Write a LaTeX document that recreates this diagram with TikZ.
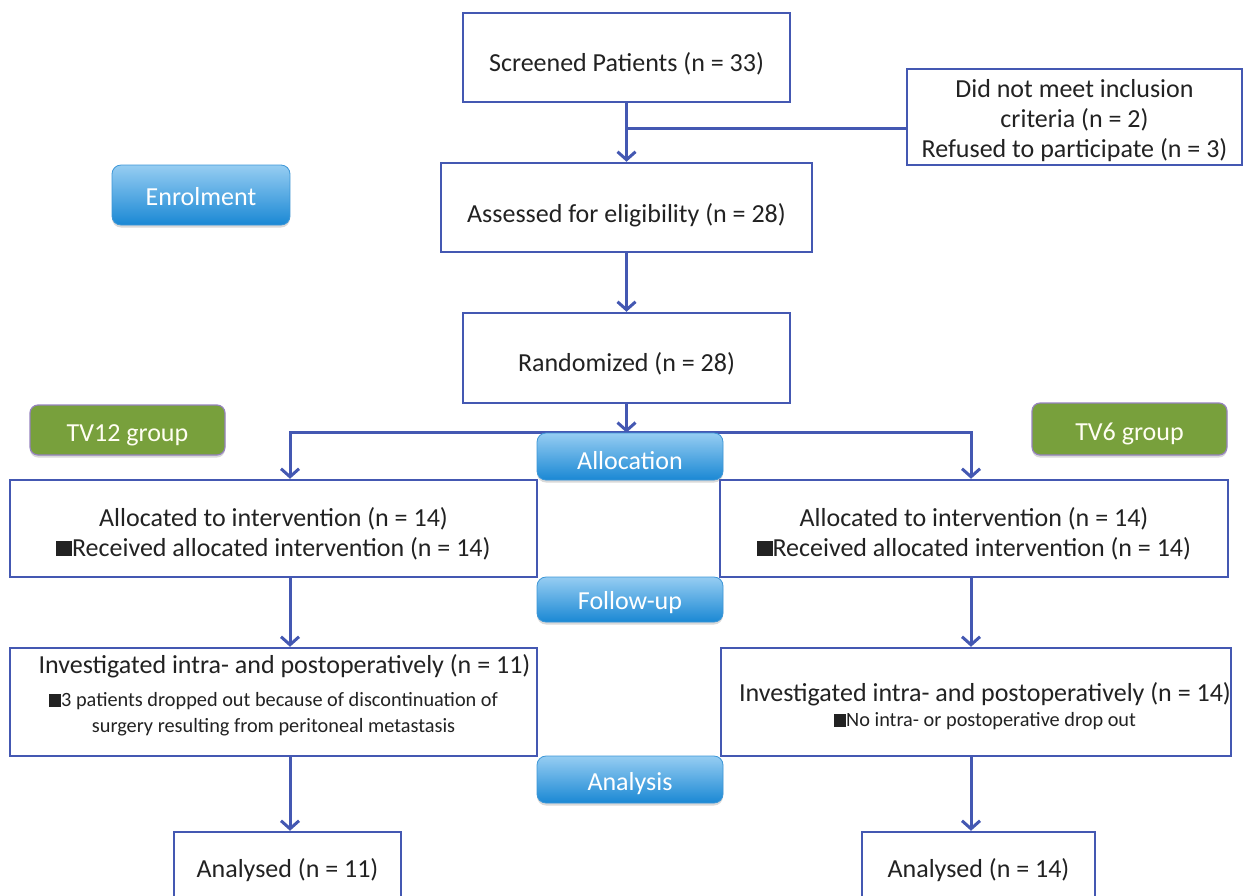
\documentclass[tikz,border=0pt]{standalone}
\usepackage{fontspec}
\setmainfont{Carlito}
\usetikzlibrary{arrows.meta,shadows,backgrounds}
\definecolor{ln}{RGB}{68,88,178}
\definecolor{txt}{RGB}{34,34,34}
\definecolor{pillt}{RGB}{150,205,242}
\definecolor{pillbot}{RGB}{26,136,212}
\definecolor{pillb}{RGB}{60,150,215}
\definecolor{grn}{RGB}{120,160,60}
\definecolor{grnb}{RGB}{150,130,190}
\newcommand\smf{\fontsize{20.3}{26}\selectfont}
\newcommand\bsq{\rule{0.6em}{0.6em}}
\newcommand\sd[1]{\rule{0pt}{#1pt}}
\begin{document}
\begin{tikzpicture}[x=1pt,y=-1pt,
  box/.style={draw=ln, line width=2.5pt, fill=white, align=center, inner sep=0pt,
    font=\fontsize{26}{30}\selectfont, text=txt},
  pill/.style={rounded corners=9pt, draw=pillb, line width=0.8pt, top color=pillt,
    bottom color=pillbot, text=white, inner sep=0pt, font=\fontsize{26}{30}\selectfont,
    drop shadow={opacity=0.3, shadow xshift=0pt, shadow yshift=-2.5pt}},
  grp/.style={rounded corners=8pt, draw=grnb, line width=1.2pt, fill=grn,
    text=white!95!yellow, inner sep=0pt, font=\fontsize{26}{30}\selectfont,
    drop shadow={opacity=0.3, shadow xshift=0pt, shadow yshift=-2.5pt}},
  arr/.style={draw=ln, line width=3pt, -{Straight Barb[length=8pt,width=18pt]}},
  conn/.style={draw=ln, line width=3pt}]
\useasboundingbox (0,0) rectangle (1244,895);
\clip (0,0) rectangle (1244,895);
% boxes
\node[box, minimum width=327, minimum height=89] (scr) at (626.5,57.5) {\sd{31.5}Screened Patients (n = 33)};
\node[box, minimum width=335, minimum height=96] (excl) at (1074.5,117) {\sd{25}Did not meet inclusion\\criteria (n = 2)\\Refused to participate (n = 3)};
\node[box, minimum width=371, minimum height=89] (ass) at (626.5,207.5) {\sd{33.5}Assessed for eligibility (n = 28)};
\node[box, minimum width=327, minimum height=90] (rand) at (626.5,358) {\sd{31.5}Randomized (n = 28)};
\node[box, minimum width=527, minimum height=97] (al1) at (273.5,528.5) {\sd{29.5}Allocated to intervention (n = 14)\\\bsq Received allocated intervention (n = 14)};
\node[box, minimum width=508, minimum height=97] (al2) at (974,528.5) {\sd{29.5}Allocated to intervention (n = 14)\\\bsq Received allocated intervention (n = 14)};
\node[box, minimum width=527, minimum height=108] (inv1) at (273.5,702) {\hspace*{22pt}Investigated intra- and postoperatively (n = 11)\\[3pt]{\smf\bsq 3 patients dropped out because of discontinuation of}\\[-4pt]{\smf surgery resulting from peritoneal metastasis\rule[-17pt]{0pt}{0pt}}};
\node[box, minimum width=508, minimum height=108] (inv2) at (976,702) {\sd{27.5}\hspace*{18pt}Investigated intra- and postoperatively (n = 14)\\[-5pt]{\smf\hspace*{18pt}\bsq No intra- or postoperative drop out}};
\node[box, minimum width=227, minimum height=76] (an1) at (287.5,870) {Analysed (n = 11)};
\node[box, minimum width=233, minimum height=76] (an2) at (978.5,870) {Analysed (n = 14)};
% pills
\node[pill, minimum width=178, minimum height=60] (enrol) at (201,195) {\sd{22}Enrolment};
\node[pill, minimum width=186, minimum height=47] (alloc) at (630,456.5) {\sd{26}Allocation};
\node[pill, minimum width=186, minimum height=45] (fol) at (630,599.5) {\sd{25}Follow-up};
\node[pill, minimum width=186, minimum height=47] (anl) at (630,779.5) {\sd{27}Analysis};
\node[grp, minimum width=195, minimum height=50] (g12) at (127.5,430) {\sd{27}TV12 group};
\node[grp, minimum width=195, minimum height=52] (g6) at (1129.5,429) {\sd{27}TV6 group};
% connectors
\coordinate (j) at (626.5,128);
\coordinate (colL) at (290,0);
\coordinate (colR) at (971,0);
\begin{scope}[on background layer]
\draw[arr] (scr.south) -- (ass.north);
\draw[conn] (j) -- (j -| excl.west);
\draw[arr] (ass.south) -- (rand.north);
\draw[arr] (rand.south) -- (rand.south |- alloc.north);
\draw[arr] (alloc.north) -| (colL |- al1.north);
\draw[arr] (alloc.north) -| (colR |- al2.north);
\draw[arr] (colL |- al1.south) -- (colL |- inv1.north);
\draw[arr] (colR |- al2.south) -- (colR |- inv2.north);
\draw[arr] (colL |- inv1.south) -- (colL |- an1.north);
\draw[arr] (colR |- inv2.south) -- (colR |- an2.north);
\end{scope}
\end{tikzpicture}
\end{document}
